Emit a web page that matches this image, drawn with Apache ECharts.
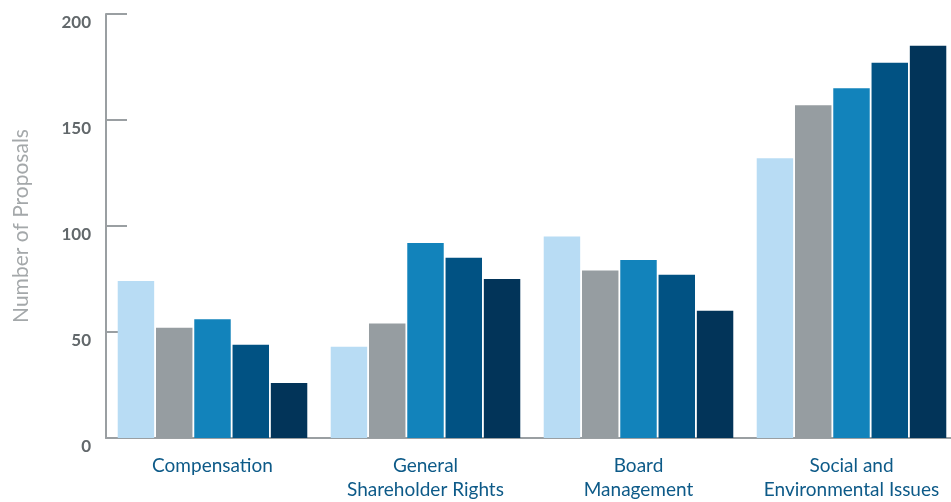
<!DOCTYPE html>
<html>
<head>
<meta charset="utf-8">
<script src="https://cdn.jsdelivr.net/npm/echarts@6/dist/echarts.min.js"></script>
<style>
  html, body { margin: 0; padding: 0; background: #fff; overflow: hidden; }
  /* the last category runs a few px past the right edge of the picture */
  #chart { width: 958px; height: 502px; }
</style>
</head>
<body>
<div id="chart"></div>
<script>
// categories along the x axis
var categories = ['Compensation', 'General\nShareholder Rights', 'Board\nManagement', 'Social and\nEnvironmental Issues'];

// five series, lightest to darkest
var series1 = [74, 43, 95, 132];
var series2 = [52, 54, 79, 157];
var series3 = [56, 92, 84, 165];
var series4 = [44, 85, 77, 177];
var series5 = [26, 75, 60, 185];

var seriesData = [series1, series2, series3, series4, series5];
var colors = ['#b8dcf4', '#969da1', '#1283bb', '#015283', '#023459'];

var dom = document.getElementById('chart');
var myChart = echarts.init(dom);

var option = {
	animation: false,
	grid: { left: 106, top: 14, right: 0, bottom: 63 },
	xAxis: {
		type: 'category',
		data: categories,
		axisLine: { lineStyle: { color: '#9a9fa2', width: 2 } },
		axisTick: { inside: true, length: 8, lineStyle: { color: '#9a9fa2', width: 2 } },
		axisLabel: {
			interval: 0,
			hideOverlap: false,
			color: '#0d5a88',
			fontFamily: 'Lato',
			fontSize: 19,
			lineHeight: 24,
			margin: 16
		}
	},
	yAxis: {
		type: 'value',
		min: 0,
		max: 200,
		interval: 50,
		name: 'Number of Proposals',
		nameLocation: 'middle',
		nameGap: 74,
		nameTextStyle: { color: '#a4a8aa', fontFamily: 'Lato', fontSize: 21 },
		axisLine: { show: true, lineStyle: { color: '#9a9fa2', width: 2 } },
		axisTick: { show: true, inside: true, length: 21, lineStyle: { color: '#9a9fa2', width: 2 } },
		axisLabel: {
			color: '#62686b',
			fontFamily: 'Lato',
			fontSize: 17,
			fontWeight: 'bold',
			margin: 15,
			verticalAlign: 'top'
		},
		splitLine: { show: false }
	},
	series: seriesData.map(function (d, i) {
		return {
			name: 'Series ' + (i + 1),
			type: 'bar',
			data: d,
			barGap: '5%',
			barCategoryGap: '11%',
			itemStyle: { color: colors[i] }
		};
	})
};

myChart.setOption(option);
</script>
</body>
</html>
